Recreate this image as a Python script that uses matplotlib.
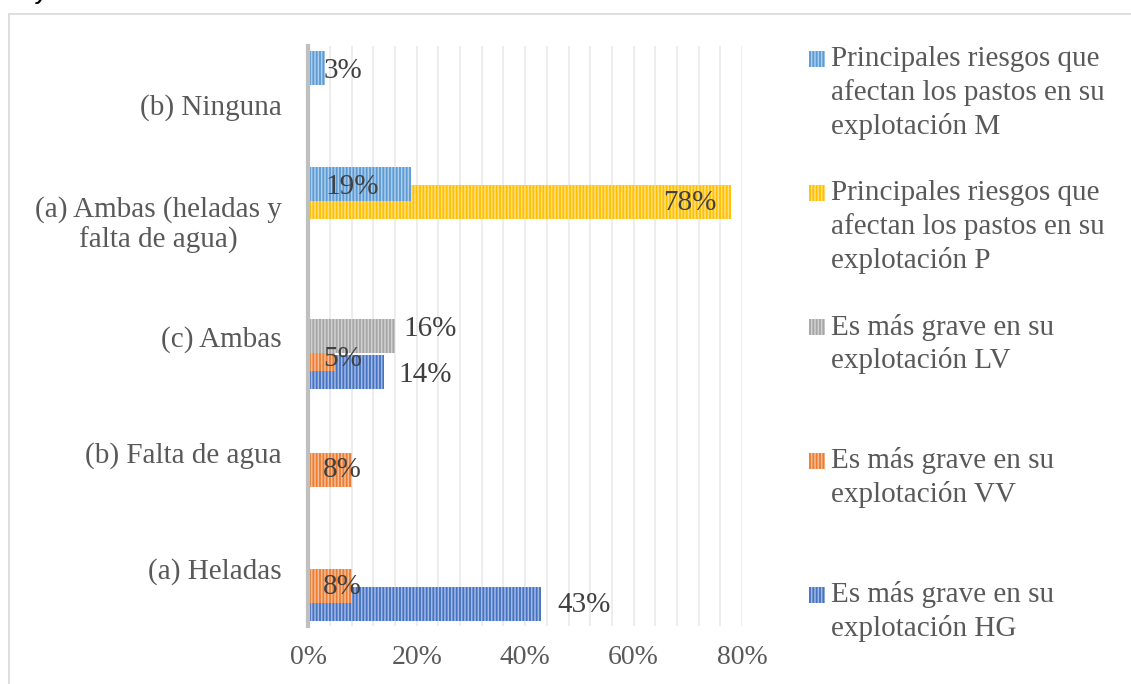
import matplotlib
matplotlib.use("Agg")
import matplotlib.pyplot as plt
from matplotlib.patches import Rectangle
from matplotlib.colors import to_rgb
import numpy as np

# ---- data -------------------------------------------------------------
categories = ["(a) Heladas", "(b) Falta de agua", "(c) Ambas",
              "(a) Ambas (heladas y\nfalta de agua)", "(b) Ninguna"]

series_names = [
    "Es más grave en su\nexplotación HG",
    "Es más grave en su\nexplotación VV",
    "Es más grave en su\nexplotación LV",
    "Principales riesgos que\nafectan los pastos en su\nexplotación P",
    "Principales riesgos que\nafectan los pastos en su\nexplotación M",
]

hg = [0.43, 0.00, 0.14, 0.00, 0.00]
vv = [0.08, 0.08, 0.05, 0.00, 0.00]
lv = [0.00, 0.00, 0.16, 0.00, 0.00]
p_ = [0.00, 0.00, 0.00, 0.78, 0.00]
m_ = [0.00, 0.00, 0.00, 0.19, 0.03]
series_values = [hg, vv, lv, p_, m_]

colors = ["#4472C4", "#ED7D31", "#A5A5A5", "#FFC000", "#5B9BD5"]

x_ticks = [0.0, 0.2, 0.4, 0.6, 0.8]
x_tick_labels = ["0%", "20%", "40%", "60%", "80%"]

# label placement per (series, category): offsets in pixels from bar end
label_offsets = {
    (4, 4): (-1.5, 3), (4, 3): (-86, 3), (3, 3): (-68, 1),
    (2, 2): (8, -7), (1, 2): (-12.5, 5), (0, 2): (14, 3),
    (1, 1): (-29, 0), (1, 0): (-29, 1), (0, 0): (16, 1),
}

# ---- figure -----------------------------------------------------------
W, H = 1131, 684
DPI = 100
plt.rcParams["font.family"] = ["Liberation Serif", "DejaVu Serif"]
plt.rcParams["hatch.linewidth"] = 1.1
fig = plt.figure(figsize=(W / DPI, H / DPI), dpi=DPI)

def px(x, y):
    """pixel (from top-left) to figure fraction"""
    return x / W, 1 - y / H

x0_px, x1_px = 308.3, 742.0
ytop_px, ybot_px = 46.0, 626.0
ax = fig.add_axes([x0_px / W, 1 - ybot_px / H,
                   (x1_px - x0_px) / W, (ybot_px - ytop_px) / H])

TEXT = "#595959"
LABEL = "#404040"
FS = 21
FS_TICK = 20

cat_pos = np.arange(len(categories))
step = 18 / 116
bar_h = 34 / 116

def lighten(c, f):
    r, g, b = to_rgb(c)
    return (r + (1 - r) * f, g + (1 - g) * f, b + (1 - b) * f)

for k, (vals, col) in enumerate(zip(series_values, colors)):
    ypos = cat_pos + (k - 2) * step
    ax.barh(ypos, vals, height=bar_h, color=col,
            edgecolor=lighten(col, 0.5), linewidth=0,
            hatch="|||||", zorder=3 + k)

# data labels
for (k, c), (dx, dy) in label_offsets.items():
    v = series_values[k][c]
    y = cat_pos[c] + (k - 2) * step
    ax.annotate(f"{round(v * 100):d}%", xy=(v, y),
                xytext=(dx * 0.72, -dy * 0.72), textcoords="offset points",
                ha="left", va="center", fontsize=FS, color=LABEL, zorder=20)

ax.set_xlim(0, 0.8)
ax.set_ylim(-0.5, len(categories) - 0.5)

# light vertical grid every 4%
for gx in np.arange(0.04, 0.8001, 0.04):
    ax.axvline(gx, color="#EDEDED", linewidth=1.4, zorder=1)

ax.set_xticks(x_ticks)
ax.set_xticklabels(x_tick_labels, fontsize=FS_TICK, color=TEXT)
ax.set_yticks(cat_pos)
ax.set_yticklabels(categories, fontsize=FS, color=TEXT, multialignment="center")
ax.tick_params(axis="x", length=0, pad=14)
ax.tick_params(axis="y", length=0, pad=19)

for s in ["top", "right", "bottom"]:
    ax.spines[s].set_visible(False)
ax.spines["left"].set_color("#BFBFBF")
ax.spines["left"].set_linewidth(3)
ax.spines["left"].set_zorder(15)
ax.set_facecolor("none")

# legend, drawn entry by entry
leg_centers = [595, 461, 327, 193, 59]
for k in range(len(series_names)):
    yc = leg_centers[k]
    fx, fy = px(809, yc + 8)
    fig.add_artist(Rectangle((fx, fy), 16 / W, 16 / H,
                             transform=fig.transFigure,
                             facecolor=colors[k],
                             edgecolor=lighten(colors[k], 0.5),
                             linewidth=0, hatch="|||||"))
    for i, line in enumerate(series_names[k].split("\n")):
        tx, ty = px(831, yc + 34 * i)
        fig.text(tx, ty, line, ha="left", va="center",
                 fontsize=FS, color=TEXT)

# outer frame
fx, fy = px(8.5, 13.5)
fig.add_artist(Rectangle((fx, -0.1), 1.2, fy + 0.1,
                         transform=fig.transFigure, fill=False,
                         edgecolor="#D9D9D9", linewidth=1.2))

# caption tail above the frame
fig.text(36 / W, 1 - 0.5 / H, "y", ha="left", va="baseline",
         fontsize=14, fontstyle="italic", fontweight="bold",
         color="black", family=["Liberation Sans", "DejaVu Sans"])

fig.savefig("out.png", dpi=DPI)
